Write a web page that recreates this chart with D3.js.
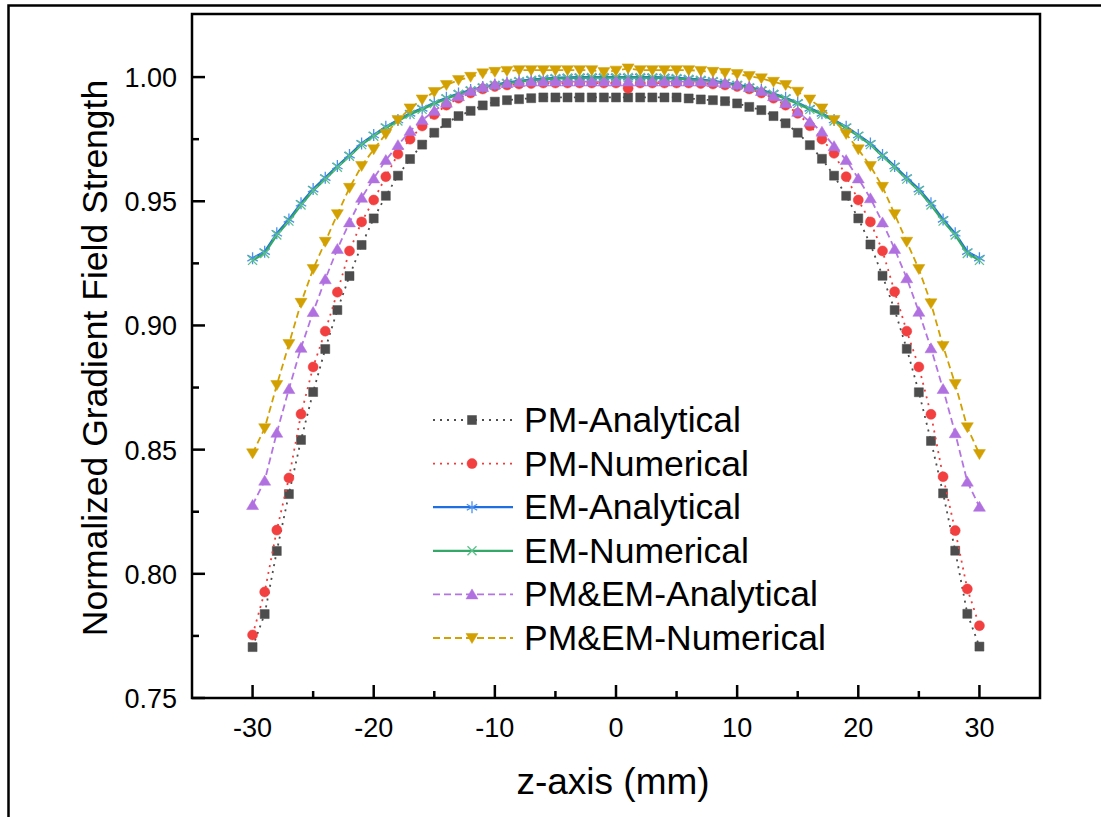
<!DOCTYPE html>
<html>
<head>
<meta charset="utf-8">
<script src="https://cdn.jsdelivr.net/npm/d3@7"></script>
<style>
    body{margin:0;background:#fff;}
    svg{display:block;}
</style>
</head>
<body>
<div id="chart"></div>
<script>
// z positions (mm)
var zValues = [-30,-29,-28,-27,-26,-25,-24,-23,-22,-21,-20,-19,-18,-17,-16,-15,-14,-13,-12,-11,-10,-9,-8,-7,-6,-5,-4,-3,-2,-1,
    0,1,2,3,4,5,6,7,8,9,10,11,12,13,14,15,16,17,18,19,20,21,22,23,24,25,26,27,28,29,30];

var pmAnalytical = [0.7705,0.7838,0.8092,0.8321,0.8539,0.8732,0.8905,0.9062,0.9199,0.9324,
    0.9431,0.9522,0.9603,0.9670,0.9728,0.9776,0.9815,0.9843,0.9864,0.9886,
    0.9901,0.9907,0.9911,0.9915,0.9918,0.9918,0.9918,0.9918,0.9918,0.9918,
    0.9918,
    0.9918,0.9918,0.9918,0.9918,0.9918,0.9914,0.9910,0.9907,0.9903,0.9894,
    0.9880,0.9867,0.9843,0.9814,0.9776,0.9726,0.9671,0.9603,0.9522,0.9431,
    0.9326,0.9200,0.9062,0.8906,0.8731,0.8535,0.8324,0.8093,0.7839,0.7707];

var pmNumerical = [0.7754,0.7927,0.8176,0.8386,0.8643,0.8833,0.8977,0.9134,0.9300,0.9417,
    0.9505,0.9599,0.9690,0.9750,0.9803,0.9849,0.9887,0.9915,0.9936,0.9952,
    0.9962,0.9968,0.9972,0.9974,0.9976,0.9976,0.9976,0.9976,0.9976,0.9976,
    0.9976,
    0.9955,0.9976,0.9976,0.9976,0.9976,0.9976,0.9974,0.9972,0.9968,0.9962,
    0.9952,0.9936,0.9915,0.9887,0.9854,0.9804,0.9750,0.9693,0.9599,0.9505,
    0.9417,0.9300,0.9136,0.8977,0.8833,0.8642,0.8391,0.8174,0.7939,0.7791];

var emAnalytical = [0.9271,0.9297,0.9371,0.9427,0.9492,0.9549,0.9595,0.9642,0.9686,0.9733,
    0.9767,0.9800,0.9827,0.9854,0.9874,0.9897,0.9917,0.9934,0.9948,0.9960,
    0.9970,0.9978,0.9985,0.9990,0.9994,0.9997,0.9999,1.0000,1.0000,1.0000,
    1.0000,
    1.0000,1.0000,1.0000,0.9999,0.9997,0.9994,0.9990,0.9985,0.9978,0.9970,
    0.9960,0.9948,0.9934,0.9917,0.9897,0.9874,0.9854,0.9827,0.9800,0.9767,
    0.9733,0.9686,0.9642,0.9595,0.9549,0.9492,0.9427,0.9371,0.9297,0.9271];

var emNumerical = [0.9262,0.9290,0.9364,0.9420,0.9485,0.9543,0.9589,0.9637,0.9681,0.9728,
    0.9762,0.9795,0.9823,0.9850,0.9870,0.9893,0.9913,0.9931,0.9945,0.9957,
    0.9967,0.9975,0.9982,0.9987,0.9991,0.9994,0.9996,0.9997,0.9998,0.9998,
    0.9998,
    0.9998,0.9998,0.9997,0.9996,0.9994,0.9991,0.9987,0.9982,0.9975,0.9967,
    0.9957,0.9945,0.9931,0.9913,0.9893,0.9870,0.9850,0.9823,0.9795,0.9762,
    0.9728,0.9681,0.9637,0.9589,0.9543,0.9485,0.9420,0.9364,0.9290,0.9262];

var pmemAnalytical = [0.8277,0.8375,0.8568,0.8744,0.8910,0.9054,0.9186,0.9308,0.9415,0.9514,
    0.9592,0.9666,0.9726,0.9783,0.9827,0.9864,0.9897,0.9923,0.9944,0.9960,
    0.9970,0.9976,0.9980,0.9982,0.9982,0.9982,0.9982,0.9982,0.9982,0.9982,
    0.9982,
    0.9982,0.9982,0.9982,0.9982,0.9982,0.9982,0.9982,0.9980,0.9976,0.9970,
    0.9960,0.9944,0.9923,0.9895,0.9860,0.9820,0.9780,0.9722,0.9666,0.9592,
    0.9512,0.9415,0.9308,0.9190,0.9055,0.8908,0.8744,0.8566,0.8371,0.8270];

var pmemNumerical = [0.8485,0.8586,0.8760,0.8925,0.9091,0.9227,0.9337,0.9448,0.9554,0.9642,
    0.9709,0.9771,0.9827,0.9874,0.9910,0.9940,0.9968,0.9988,1.0001,1.0015,
    1.0021,1.0025,1.0028,1.0028,1.0028,1.0028,1.0028,1.0028,1.0028,1.0020,
    1.0026,
    1.0035,1.0028,1.0028,1.0028,1.0028,1.0028,1.0025,1.0021,1.0017,1.0012,
    1.0004,0.9995,0.9981,0.9968,0.9941,0.9910,0.9874,0.9827,0.9771,0.9709,
    0.9642,0.9558,0.9448,0.9337,0.9227,0.9089,0.8917,0.8764,0.8590,0.8482];

var seriesNames = ["PM-Analytical","PM-Numerical","EM-Analytical","EM-Numerical","PM&EM-Analytical","PM&EM-Numerical"];
var xTicks = [-30,-20,-10,0,10,20,30];
var yTicks = [0.75,0.80,0.85,0.90,0.95,1.00];

var styles = [
    {values:pmAnalytical,  color:"#4d4d4d", markColor:"#4d4d4d", dash:"2,5", width:1.8, marker:"square"},
    {values:pmNumerical,   color:"#f03c3c", markColor:"#f23f3f", dash:"2,5", width:1.8, marker:"circle"},
    {values:emAnalytical,  color:"#1f6fe0", markColor:"#4b90f0", dash:null,  width:2.2, marker:"star"},
    {values:emNumerical,   color:"#34a868", markColor:"#5cc08a", dash:null,  width:2.2, marker:"cross"},
    {values:pmemAnalytical,color:"#b475e2", markColor:"#b070e0", dash:"7,4", width:1.8, marker:"up"},
    {values:pmemNumerical, color:"#d2a000", markColor:"#d2a000", dash:"7,4", width:1.8, marker:"down"}
];

var font = "'Liberation Sans', Arial, sans-serif";
var W = 1101, H = 817;
var plot = {left:192, right:1040, top:14, bottom:698};

var svg = d3.select("#chart").append("svg")
    .attr("width",W).attr("height",H);

// outer frame
svg.append("rect")
    .attr("x",8.5).attr("y",5.5)
    .attr("width",1200).attr("height",900)
    .attr("fill","none").attr("stroke","#000").attr("stroke-width",2.5);

var x = d3.scaleLinear().domain([-35,35]).range([plot.left,plot.right]);
var y = d3.scaleLinear().domain([0.75,1.0254]).range([plot.bottom,plot.top]);

function markerPath(type){
    switch(type){
        case "square": return "M-4.5,-4.5H4.5V4.5H-4.5Z";
        case "circle": return "M-5,0A5,5 0 1,0 5,0A5,5 0 1,0 -5,0Z";
        case "up": return "M0,-5.5L6,4.5L-6,4.5Z";
        case "down": return "M0,5.5L6,-4.5L-6,-4.5Z";
        case "star": return "M0,-6V6M-5.2,-3L5.2,3M-5.2,3L5.2,-3";
        case "cross": return "M-4.5,-4.5L4.5,4.5M-4.5,4.5L4.5,-4.5";
    }
}
function isOpen(type){ return type=="star"||type=="cross"; }

function drawMarker(g,type,color,tx,ty){
    g.append("path")
        .attr("d",markerPath(type))
        .attr("transform","translate("+tx+","+ty+")")
        .attr("fill",isOpen(type)?"none":color)
        .attr("stroke",color)
        .attr("stroke-width",isOpen(type)?1.3:0.5);
}

// series
var line = d3.line()
    .x(function(d,i){return x(zValues[i]);})
    .y(function(d){return y(d);});

var seriesG = svg.append("g").attr("class","series");
styles.forEach(function(s){
    var g = seriesG.append("g");
    g.append("path")
        .datum(s.values)
        .attr("d",line)
        .attr("fill","none")
        .attr("stroke",s.color)
        .attr("stroke-width",s.width)
        .attr("stroke-dasharray",s.dash);
    g.selectAll("path.mk")
        .data(s.values)
        .enter().append("path")
        .attr("class","mk")
        .attr("d",markerPath(s.marker))
        .attr("transform",function(d,i){return "translate("+x(zValues[i])+","+y(d)+")";})
        .attr("fill",isOpen(s.marker)?"none":s.markColor)
        .attr("stroke",s.markColor)
        .attr("stroke-width",isOpen(s.marker)?1.3:0.5);
});

// axes frame
svg.append("rect")
    .attr("x",plot.left).attr("y",plot.top)
    .attr("width",plot.right-plot.left).attr("height",plot.bottom-plot.top)
    .attr("fill","none").attr("stroke","#000").attr("stroke-width",2.5);

// x ticks (inward)
var xMinor = [-25,-15,-5,5,15,25];
svg.append("g").selectAll("line")
    .data(xTicks).enter().append("line")
    .attr("x1",function(d){return x(d);}).attr("x2",function(d){return x(d);})
    .attr("y1",plot.bottom).attr("y2",plot.bottom-13)
    .attr("stroke","#000").attr("stroke-width",2.5);
svg.append("g").selectAll("line")
    .data(xMinor).enter().append("line")
    .attr("x1",function(d){return x(d);}).attr("x2",function(d){return x(d);})
    .attr("y1",plot.bottom).attr("y2",plot.bottom-7)
    .attr("stroke","#000").attr("stroke-width",2.5);
svg.append("g").selectAll("text")
    .data(xTicks).enter().append("text")
    .text(function(d){return d;})
    .attr("x",function(d){return x(d);})
    .attr("y",737)
    .attr("text-anchor","middle")
    .attr("font-family",font)
    .attr("font-size","27px");

// y ticks
var yMinor = [0.775,0.825,0.875,0.925,0.975];
svg.append("g").selectAll("line")
    .data(yTicks).enter().append("line")
    .attr("x1",plot.left).attr("x2",plot.left+13)
    .attr("y1",function(d){return y(d);}).attr("y2",function(d){return y(d);})
    .attr("stroke","#000").attr("stroke-width",2.5);
svg.append("g").selectAll("line")
    .data(yMinor).enter().append("line")
    .attr("x1",plot.left).attr("x2",plot.left+7)
    .attr("y1",function(d){return y(d);}).attr("y2",function(d){return y(d);})
    .attr("stroke","#000").attr("stroke-width",2.5);
svg.append("g").selectAll("text")
    .data(yTicks).enter().append("text")
    .text(function(d){return d3.format(".2f")(d);})
    .attr("x",177)
    .attr("y",function(d){return y(d)+10;})
    .attr("text-anchor","end")
    .attr("font-family",font)
    .attr("font-size","27px");

// axis titles
svg.append("text")
    .text("z-axis (mm)")
    .attr("x",(plot.left+plot.right)/2-3)
    .attr("y",794)
    .attr("text-anchor","middle")
    .attr("font-family",font)
    .attr("font-size","37px");

svg.append("text")
    .text("Normalized Gradient Field Strength")
    .attr("transform","translate(107,"+((plot.top+plot.bottom)/2+2)+") rotate(-90)")
    .attr("text-anchor","middle")
    .attr("font-family",font)
    .attr("font-size","35.5px");

// legend
var legend = svg.append("g").attr("class","legend");
styles.forEach(function(s,i){
    var ly = 420+i*43.6;
    legend.append("line")
        .attr("x1",433).attr("x2",513)
        .attr("y1",ly).attr("y2",ly)
        .attr("stroke",s.color)
        .attr("stroke-width",s.width)
        .attr("stroke-dasharray",s.dash);
    drawMarker(legend,s.marker,s.markColor,472,ly);
    legend.append("text")
        .text(seriesNames[i])
        .attr("x",524)
        .attr("y",ly+12)
        .attr("font-family",font)
        .attr("font-size","35.5px");
});
</script>
</body>
</html>
